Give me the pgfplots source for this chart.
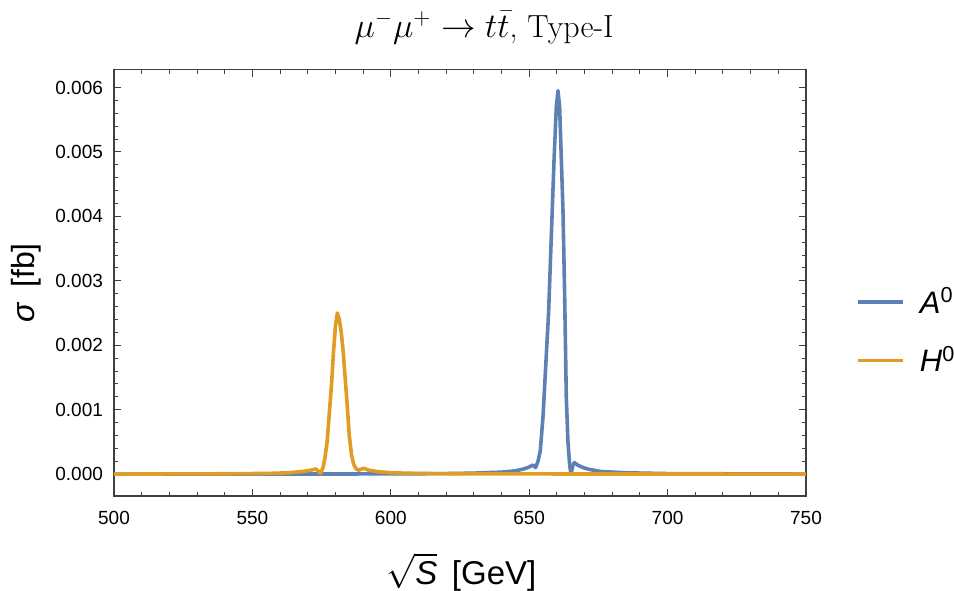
\documentclass[border=0pt]{standalone}
\usepackage{fontspec}
\setsansfont{Liberation Sans}
\usepackage{pgfplots}
\pgfplotsset{compat=1.18}
\definecolor{mblue}{rgb}{0.368417,0.506779,0.709798}
\definecolor{morange}{rgb}{0.880722,0.611041,0.142051}

\begin{document}
\begin{tikzpicture}
\begin{axis}[
  name=ax,
  scale only axis,
  width=346pt,height=213.25pt,
  xmin=500,xmax=750,
  ymin=-0.00034,ymax=0.00628,
  xtick={500,550,...,750},
  ytick={0,0.001,...,0.006},
  minor x tick num=4,
  minor y tick num=4,
  tick align=inside,
  major tick length=3.5pt,
  minor tick length=2pt,
  axis line style={black!75,line width=0.6pt},
  every tick/.style={black!75,line width=0.5pt},
  scaled ticks=false,
  /pgf/number format/assume math mode=true,
  yticklabel style={/pgf/number format/fixed,/pgf/number format/fixed zerofill,/pgf/number format/precision=3,xshift=-2pt},
  xticklabel style={/pgf/number format/fixed,/pgf/number format/precision=0,yshift=-4pt},
  ticklabel style={font=\sffamily\fontsize{9.5}{11}\selectfont},
  title={$\mu^-\mu^+\to t\bar t$, Type-I},
  title style={font=\fontsize{16}{18}\selectfont,at={(axis description cs:0.535,1.07)},anchor=center},
  xlabel={$\sqrt{\textit{S}}$\;\,[GeV]},
  xlabel style={font=\sffamily\fontsize{16.5}{18}\selectfont,at={(axis description cs:0.502,-0.178)},anchor=center},
  ylabel={\textit{σ}\, [fb]},
  ylabel style={font=\sffamily\fontsize{16}{18}\selectfont,at={(axis description cs:-0.127,0.5)},anchor=center},
  legend style={at={(axis description cs:1,0.386)},anchor=west,xshift=25pt,
    draw=none,fill=none,inner sep=0pt,row sep=11pt,
    font=\sffamily\fontsize{15.5}{17}\selectfont},
  legend cell align=left,
  legend image code/.code={\draw[#1] (0pt,0pt) -- (22.5pt,0pt); \path (28pt,0pt);},
  every axis plot/.append style={line width=1.8pt,line join=round},
  clip=true,
]
\addplot[mblue] coordinates {
(500,0) (550,0) (600,0.000003) (620,0.000008) (630,0.000015) (640,0.00003)
(645,0.00005) (648,0.00008) (650,0.00011) (651.3,0.00014) (652.3,0.00010)
(653.2,0.0002) (654,0.00036) (655,0.0009) (656,0.0017) (657,0.0025)
(658,0.0037) (659,0.0049) (659.8,0.0057) (660.4,0.00595) (661,0.0057)
(661.6,0.0049) (662.2,0.0041) (662.8,0.0028) (663.4,0.0012) (664,0.0005)
(664.6,0.00015) (665.1,0.0) (665.7,0.00012) (666.3,0.00018) (667.5,0.00014)
(669.5,0.0001) (672,0.00007) (676,0.00004) (685,0.00002) (700,0.000008) (750,0)
};
\addlegendentry{\textit{A}\textsuperscript{0}}
\addplot[morange] coordinates {
(500,0) (540,0.000005) (555,0.00001) (563,0.00002) (568,0.00004) (571,0.00006)
(573,0.00008) (574.6,0.00001) (575.5,0.0001) (576.2,0.00025) (577,0.0005)
(577.8,0.00095) (578.6,0.0014) (579.3,0.0019) (580,0.0023) (580.7,0.0025)
(581.4,0.0024) (582.1,0.0022) (582.8,0.0019) (583.5,0.0015) (584.2,0.0011)
(585,0.0006) (585.8,0.0003) (586.6,0.00015) (587.5,0.00008) (588.4,0.00006)
(589.5,0.00008) (590.3,0.00009) (592,0.00006) (595,0.00004) (600,0.00002)
(610,0.00001) (630,0.000003) (750,0)
};
\addlegendentry{\textit{H}\textsuperscript{0}}
\end{axis}
\pgfresetboundingbox
\path (ax.south west) ++(-57pt,-47pt) rectangle ++(477pt,295pt);
\end{tikzpicture}
\end{document}
